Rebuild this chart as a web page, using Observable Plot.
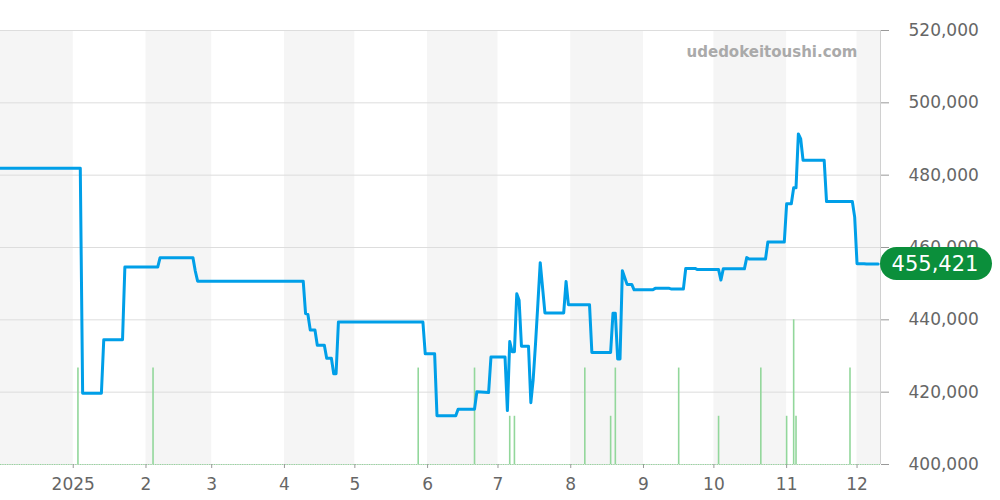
<!DOCTYPE html>
<html><head><meta charset="utf-8">
<script src="https://cdn.jsdelivr.net/npm/d3@7"></script>
<script src="https://cdn.jsdelivr.net/npm/@observablehq/plot@0.6"></script>
<style>html,body{margin:0;padding:0;background:#fff;} #chart svg{display:block}</style>
</head><body><div id="chart"></div>
<script>
const priceDates = ["2024-12-01","2025-01-04","2025-01-05","2025-01-13","2025-01-14","2025-01-22","2025-01-23","2025-02-06","2025-02-07","2025-02-21","2025-02-22","2025-02-23","2025-04-09","2025-04-10","2025-04-11","2025-04-12","2025-04-14","2025-04-15","2025-04-18","2025-04-19","2025-04-21","2025-04-22","2025-04-23","2025-04-24","2025-05-30","2025-05-31","2025-06-04","2025-06-05","2025-06-13","2025-06-14","2025-06-21","2025-06-22","2025-06-27","2025-06-28","2025-07-04","2025-07-05","2025-07-06","2025-07-07","2025-07-08","2025-07-09","2025-07-10","2025-07-11","2025-07-14","2025-07-15","2025-07-16","2025-07-17","2025-07-18","2025-07-19","2025-07-21","2025-07-29","2025-07-30","2025-07-31","2025-08-09","2025-08-10","2025-08-18","2025-08-19","2025-08-20","2025-08-21","2025-08-22","2025-08-23","2025-08-25","2025-08-27","2025-08-28","2025-09-05","2025-09-06","2025-09-12","2025-09-13","2025-09-18","2025-09-19","2025-09-23","2025-09-24","2025-10-03","2025-10-04","2025-10-05","2025-10-14","2025-10-15","2025-10-16","2025-10-23","2025-10-24","2025-10-31","2025-11-01","2025-11-03","2025-11-04","2025-11-05","2025-11-06","2025-11-07","2025-11-08","2025-11-17","2025-11-18","2025-11-29","2025-11-30","2025-12-01","2025-12-04","2025-12-05","2025-12-10"];
const priceValues = [481900,481900,419700,419700,434500,434500,454600,454600,457200,457200,453500,450700,450700,441700,441500,437200,437200,433000,433000,429400,429400,425100,425100,439400,439400,430600,430600,413500,413500,415300,415300,420100,419900,429700,429700,414900,434000,431200,431200,447200,445400,432700,432700,417100,423500,433500,444500,455800,441900,441900,450600,444200,444200,431000,431000,441800,441800,429200,429200,453600,449800,449800,448300,448300,448700,448700,448500,448500,454200,454200,453900,453900,451000,454100,454100,457200,456800,456800,461500,461500,472100,472100,476500,476500,491400,490000,484100,484100,472700,472700,468400,455500,455500,455421,455421];

const volumeDates = ["2025-01-03","2025-02-04","2025-05-28","2025-06-21","2025-07-06","2025-07-08","2025-08-07","2025-08-18","2025-08-20","2025-09-16","2025-10-03","2025-10-21","2025-11-01","2025-11-04","2025-11-05","2025-11-28"];
const volumeCounts = [2,2,2,2,1,1,2,1,2,2,1,2,1,3,1,2];
const volumeAxisMax = 9;

const shadedMonths = ["2024-12-01","2025-02-01","2025-04-01","2025-06-01","2025-08-01","2025-10-01","2025-12-01"];
const monthTicks = ["2025-01-01","2025-02-01","2025-03-01","2025-04-01","2025-05-01","2025-06-01","2025-07-01","2025-08-01","2025-09-01","2025-10-01","2025-11-01","2025-12-01"];
const monthTickLabels = ["2025","2","3","4","5","6","7","8","9","10","11","12"];
const yTicks = [400000,420000,440000,460000,480000,500000,520000];
const xDomain = ["2024-12-01","2025-12-11"];
const yDomain = [400000,520000];
const latestPrice = 455421;
const watermark = "udedokeitoushi.com";

const parse = s => new Date(s + "T00:00:00Z");
const prices = priceDates.map((d, i) => ({date: parse(d), price: priceValues[i]}));
const volumes = volumeDates.map((d, i) => ({date: parse(d), count: volumeCounts[i]}));
const bands = shadedMonths.map(d => ({start: parse(d), end: d3.utcMonth.offset(parse(d), 1)}));
const xd = xDomain.map(parse);
const volToY = c => yDomain[0] + c / volumeAxisMax * (yDomain[1] - yDomain[0]);
const fmt = d3.format(",");

const pill = (index, scales, values, dim) => {
  const g = d3.create("svg:g");
  const x0 = dim.width - dim.marginRight;
  const yc = scales.y(latestPrice);
  const w = 112, h = 33;
  g.append("rect").attr("x", x0).attr("y", yc - h/2).attr("width", w).attr("height", h)
    .attr("rx", h/2).attr("ry", h/2).attr("fill", "#0b8f3b");
  g.append("text").attr("x", x0 + w/2 - 1).attr("y", yc).attr("dy", "0.36em")
    .attr("text-anchor", "middle").attr("fill", "#fff")
    .attr("font-size", 21).attr("font-family", "DejaVu Sans").text(fmt(latestPrice));
  return g.node();
};

const chart = Plot.plot({
  width: 1000, height: 500,
  marginLeft: 0, marginRight: 120, marginTop: 30, marginBottom: 36,
  style: {fontFamily: "DejaVu Sans", fontSize: "17px", background: "#fff", overflow: "visible"},
  x: {type: "utc", domain: xd},
  y: {domain: yDomain},
  marks: [
    Plot.rectX(bands, {x1: "start", x2: "end", fill: "#f5f5f5", clip: true}),
    Plot.gridY(yTicks, {stroke: "#dddddd", strokeOpacity: 1}),
    Plot.ruleX(volumes, {x: "date", y1: yDomain[0], y2: d => volToY(d.count), stroke: "#92d79b", strokeWidth: 1.6}),
    Plot.ruleY([yDomain[0]], {stroke: "#92d79b", strokeWidth: 1.2, strokeDasharray: "1.2,1.15"}),
    Plot.ruleX([xd[1]], {stroke: "#d0d0d0"}),
    Plot.line(prices, {x: "date", y: "price", stroke: "#009fe8", strokeWidth: 3, strokeLinejoin: "round"}),
    Plot.axisY(yTicks, {anchor: "right", tickSize: 8, tickPadding: 20, tickFormat: fmt, fill: "#666", stroke: "#999", fontSize: 17, label: null}),
    Plot.axisX(monthTicks.map(parse), {anchor: "bottom", tickSize: 4, tickPadding: 9, tickFormat: (d, i) => monthTickLabels[i], fill: "#666", stroke: "#999", fontSize: 17, label: null}),
    Plot.text([watermark], {frameAnchor: "top-right", dx: -23, dy: 22, textAnchor: "end", lineAnchor: "middle", fontWeight: "bold", fill: "#aaa", fontSize: 15}),
    pill
  ]
});
document.getElementById("chart").appendChild(chart);
</script>
</body></html>
